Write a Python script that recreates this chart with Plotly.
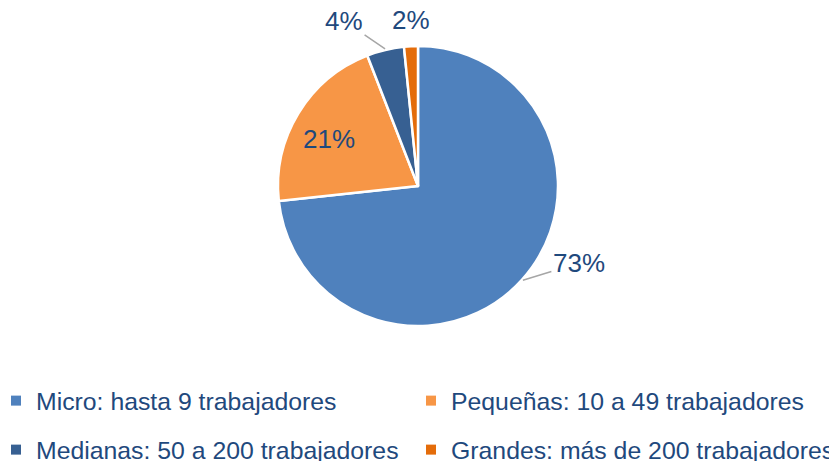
import math
import plotly.graph_objects as go

# ---- data ----
categories = [
    "Micro: hasta 9 trabajadores",
    "Pequeñas: 10 a 49 trabajadores",
    "Medianas: 50 a 200 trabajadores",
    "Grandes: más de 200 trabajadores",
]
shares = [73.3, 20.8, 4.3, 1.6]

# ---- style ----
colors = ["#4F81BD", "#F79646", "#376092", "#E46C0A"]
TEXT = "#1F497D"
FONT = "Liberation Sans, Arial, sans-serif"
W, H = 837, 461
PAGE = 8  # default body margin of the html page
CX, CY, R = 418 - PAGE, 186 - PAGE, 140  # pie centre / radius in figure pixels
# per-slice label placement: (mode, radial factor or pixel offsets)
label_style = [
    ("arrow", 56, -17),
    ("inside", 0.71, None),
    ("arrow", -41, -28),
    ("above", 0, 9),
]
# legend slots (figure px of legend box left, figure px of row centre)
legend_slots = [(-12, 393), (403, 393), (-12, 442), (403, 442)]

fig = go.Figure()

fig.add_trace(go.Pie(
    labels=categories,
    values=shares,
    sort=False,
    direction="clockwise",
    rotation=0,
    marker=dict(colors=colors, line=dict(color="white", width=2.5)),
    textinfo="none",
    hoverinfo="label+percent",
    showlegend=False,
    domain=dict(x=[(CX - R) / W, (CX + R) / W], y=[1 - (CY + R) / H, 1 - (CY - R) / H]),
))

legend_names = ["legend", "legend2", "legend3", "legend4"]
for name, col, lg in zip(categories, colors, legend_names):
    fig.add_trace(go.Scatter(
        x=[None], y=[None], mode="markers", name=name,
        marker=dict(symbol="square", size=10, color=col),
        legend=lg, hoverinfo="skip",
    ))

# labels computed from the slice angles
total = sum(shares)
cum = 0.0
annotations = []
lab_font = dict(size=26, color=TEXT, family=FONT)
for v, (mode, a, b) in zip(shares, label_style):
    mid = (cum + v / 2) / total * 2 * math.pi
    cum += v
    pct = f"{round(v / total * 100)}%"
    s, c = math.sin(mid), math.cos(mid)
    if mode == "inside":
        px, py = CX + R * a * s, CY - R * a * c
        annotations.append(dict(x=px / W, y=1 - py / H, xref="paper", yref="paper",
                                xanchor="center", yanchor="middle", xshift=-4, yshift=-5,
                                text=pct, showarrow=False, font=lab_font))
    elif mode == "arrow":
        px, py = CX + (R + 1) * s, CY - (R + 1) * c
        annotations.append(dict(x=px / W, y=1 - py / H, xref="paper", yref="paper",
                                text=pct, showarrow=True, arrowhead=0, arrowwidth=1.5,
                                arrowcolor="#A6A6A6", ax=a, ay=b, standoff=0,
                                font=lab_font))
    else:
        px, py = CX + R * s, CY - R * c
        annotations.append(dict(x=px / W, y=1 - py / H, xref="paper", yref="paper",
                                xanchor="center", yanchor="bottom", yshift=b,
                                text=pct, showarrow=False, font=lab_font))

legend_common = dict(
    orientation="h", xanchor="left", yanchor="middle",
    font=dict(size=24.8, color=TEXT, family=FONT),
    bgcolor="rgba(0,0,0,0)", itemclick=False, itemdoubleclick=False,
)
legends = {}
for lg, (lx, ly) in zip(legend_names, legend_slots):
    legends[lg] = dict(x=lx / W, y=1 - ly / H, **legend_common)

fig.update_layout(
    width=W, height=H,
    margin=dict(l=0, r=0, t=0, b=0, autoexpand=False),
    paper_bgcolor="white", plot_bgcolor="white",
    xaxis=dict(visible=False), yaxis=dict(visible=False),
    annotations=annotations,
    font=dict(family=FONT, color=TEXT),
    **legends,
)

fig.write_html("out.html")
